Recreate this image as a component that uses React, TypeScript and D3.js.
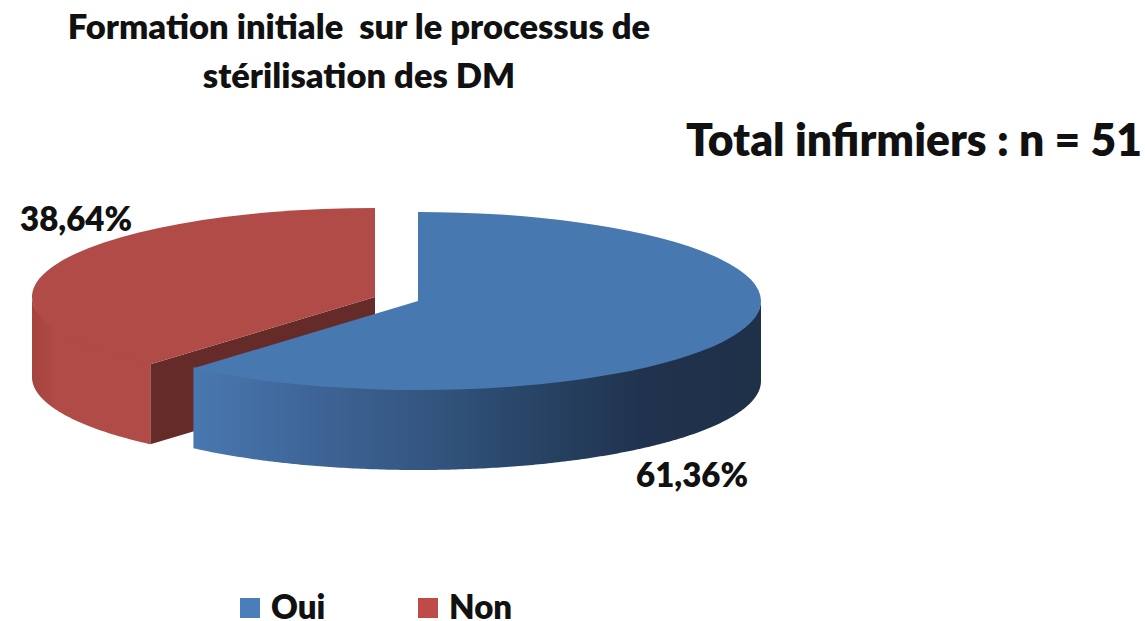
import React from "react";
import * as d3 from "d3";

const categories = ["Oui", "Non"];
const values = [61.36, 38.64];
const valueLabels = ["61,36%", "38,64%"];
const titleLines = ["Formation initiale  sur le processus de", "stérilisation des DM"];
const totalLabel = "Total infirmiers : n = 51";

const width = 1145;
const height = 621;
const rx = 343;
const ry = 89;
const depth = 80;
const centers = [
  { x: 418, y: 301 },
  { x: 375, y: 297 },
];
const topColors = ["#4878b0", "#b04b47"];
const legendColors = ["#4a7ebb", "#be4b48"];
const font = "Lato, 'Open Sans', sans-serif";

const slices = d3.pie<number>().sort(null)(values);
const topArc = d3.arc<d3.PieArcDatum<number>>().innerRadius(0).outerRadius(rx);

// outer wall of a slice, only the part that faces the viewer
// starts 1px above the rim so no white seam shows under the top face
const wallPath = (start: number, end: number) => {
  const from = Math.max(start, Math.PI / 2);
  const to = Math.min(end, (3 * Math.PI) / 2);
  const angles = d3.range(from, to, 0.01).concat(to);
  return d3
    .area<number>()
    .x((a) => rx * Math.sin(a))
    .y0((a) => -ry * Math.cos(a) - 1)
    .y1((a) => -ry * Math.cos(a) + depth)(angles) as string;
};

const App: React.FC = () => {
  const red = slices[1];
  const blue = slices[0];
  const cutX = rx * Math.sin(red.startAngle);
  const cutY = -ry * Math.cos(red.startAngle);

  return (
    <svg
      width={width}
      height={height}
      style={{ position: "absolute", left: 0, top: 0, background: "#fff" }}
      fontFamily={font}
      fontWeight={800}
      fill="#111"
    >
      <defs>
        <linearGradient id="blueWall" gradientUnits="userSpaceOnUse" x1={-226} x2={342} y1={0} y2={0}>
          <stop offset="0" stopColor="#4878b0" />
          <stop offset="0.2" stopColor="#3f6699" />
          <stop offset="0.42" stopColor="#33557f" />
          <stop offset="0.62" stopColor="#274263" />
          <stop offset="0.8" stopColor="#20324d" />
          <stop offset="1" stopColor="#1f3049" />
        </linearGradient>
        <linearGradient id="redWall" gradientUnits="userSpaceOnUse" x1={-343} x2={-224} y1={0} y2={0}>
          <stop offset="0" stopColor="#a5433f" />
          <stop offset="0.2" stopColor="#b04b47" />
          <stop offset="1" stopColor="#b04b47" />
        </linearGradient>
      </defs>

      {titleLines.map((line, i) => (
        <text key={line} x={359} y={39 + i * 49} textAnchor="middle" fontSize={34.5} style={{ whiteSpace: "pre" }}>
          {line}
        </text>
      ))}
      <text x={686} y={156} fontSize={44.4}>
        {totalLabel}
      </text>

      {/* Non */}
      <g transform={`translate(${centers[1].x},${centers[1].y})`}>
        <path d={wallPath(red.startAngle, red.endAngle)} fill="url(#redWall)" />
        <path
          d={d3.line()([
            [0, 0],
            [cutX, cutY],
            [cutX, cutY + depth],
            [0, depth],
          ]) as string}
          fill="#652b28"
        />
        <path d={topArc(red) as string} transform={`scale(1,${ry / rx})`} fill={topColors[1]} />
      </g>

      {/* Oui */}
      <g transform={`translate(${centers[0].x},${centers[0].y})`}>
        <path d={wallPath(blue.startAngle, blue.endAngle)} fill="url(#blueWall)" />
        <path d={topArc(blue) as string} transform={`scale(1,${ry / rx})`} fill={topColors[0]} />
      </g>

      <text x={20} y={231} fontSize={33}>
        {valueLabels[1]}
      </text>
      <text x={636} y={487} fontSize={33}>
        {valueLabels[0]}
      </text>

      {categories.map((c, i) => (
        <g key={c} transform={`translate(${240 + i * 178},0)`}>
          <rect x={0} y={598} width={20} height={20} fill={legendColors[i]} />
          <text x={31} y={619} fontSize={33}>
            {c}
          </text>
        </g>
      ))}
    </svg>
  );
};

export default App;
